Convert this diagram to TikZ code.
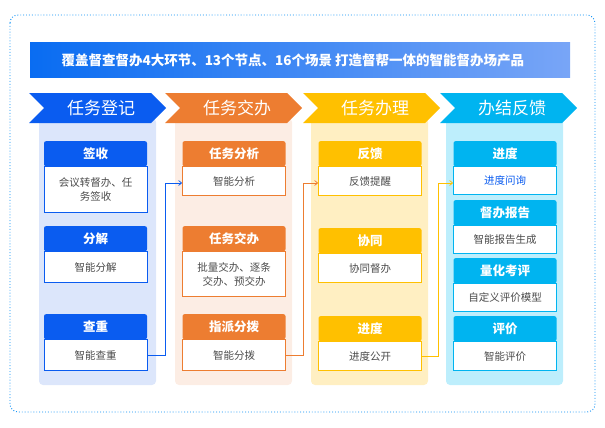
\documentclass[tikz,border=0pt]{standalone}
\usepackage{fontspec}
\setmainfont{Noto Sans CJK SC}
\usetikzlibrary{arrows.meta,shapes.symbols}
\definecolor{cBlue}{HTML}{0A5CF0}
\definecolor{bBlue}{HTML}{DCE6FB}
\definecolor{cOrange}{HTML}{ED7D31}
\definecolor{bOrange}{HTML}{FCEDE4}
\definecolor{cYellow}{HTML}{FFC000}
\definecolor{bYellow}{HTML}{FFEFC2}
\definecolor{cCyan}{HTML}{00B4F0}
\definecolor{bCyan}{HTML}{BDEEFC}
\tikzset{
  head/.style={fill=#1,text=white,font=\bfseries\fontsize{12.5}{14}\selectfont,minimum width=103pt,minimum height=25pt,anchor=north,inner sep=0pt,rounded corners=2pt},
  body/.style={draw=#1,fill=white,text=black!70,font=\fontsize{10.5}{14}\selectfont,minimum width=103pt,anchor=north,inner sep=1pt,align=center,line width=0.8pt},
  link/.style={draw=#1,line width=0.7pt,-{Straight Barb[length=3pt,width=5pt]}},
  chev/.style={fill=#1}
}
\newcommand{\card}[7]{% name, x, y, color, head, body, body height
  \node[head=#4] (#1h) at (#2,#3) {#5};
  \node[body=#4,minimum height=#7] (#1b) at (#1h.south) {#6};
}
\begin{document}
\begin{tikzpicture}[x=1pt,y=-1pt]
\useasboundingbox (0,0) rectangle (605,428);
\draw[cBlue!70!cyan,dotted,line width=0.9pt,rounded corners=8pt] (10,15) rectangle (595,412);
% title bar
\shade[left color=cBlue!90!cyan,right color=cBlue!55!white] (30,43) rectangle (570,78);
\node[text=white,font=\bfseries\fontsize{13.5}{15}\selectfont,anchor=west] (title) at (58,60.5) {覆盖督查督办4大环节、13个节点、16个场景 打造督帮一体的智能督办场产品};
% column backgrounds
\foreach \x/\c in {39/bBlue,175/bOrange,311/bYellow,446/bCyan}
  \fill[\c,rounded corners=4pt] (\x,118) rectangle ++(117,267);
% chevrons
\foreach \x/\c/\t in {29/cBlue/任务登记,165/cOrange/任务交办,303/cYellow/任务办理,440/cCyan/办结反馈}{
  \fill[\c] (\x,93) -- ++(122,0) -- ++(15,15) -- ++(-15,15) -- ++(-122,0) -- ++(15,-15) -- cycle;
  \node[text=white,font=\fontsize{17}{19}\selectfont] at (\x+72,108) {\t};
}
% column 1
\card{qs}{95.5}{141}{cBlue}{签收}{会议转督办、任\\务签收}{46pt}
\card{fj}{95.5}{226}{cBlue}{分解}{智能分解}{31pt}
\card{cz}{95.5}{314}{cBlue}{查重}{智能查重}{31pt}
% column 2
\card{fx}{234}{141}{cOrange}{任务分析}{智能分析}{29pt}
\card{jb}{234}{226}{cOrange}{任务交办}{批量交办、逐条\\交办、预交办}{45pt}
\card{zp}{234}{314}{cOrange}{指派分拨}{智能分拨}{31pt}
% column 3
\card{fk}{370}{141}{cYellow}{反馈}{反馈提醒}{29pt}
\card{xt}{370}{228}{cYellow}{协同}{协同督办}{29pt}
\card{jd}{370}{316}{cYellow}{进度}{进度公开}{29pt}
% column 4
\card{jx}{505}{141}{cCyan}{进度}{\textcolor{cBlue}{进度问询}}{28pt}
\card{bg}{505}{200}{cCyan}{督办报告}{智能报告生成}{28pt}
\card{kp}{505}{258}{cCyan}{量化考评}{自定义评价模型}{28pt}
\card{pj}{505}{316}{cCyan}{评价}{智能评价}{29pt}
% connectors
\draw[link=cBlue] (czb.east) -| (165,183) -- (fxb.west |- 0,183);
\draw[link=cOrange] (zpb.east) -| (303,183) -- (fkb.west |- 0,183);
\draw[link=cYellow] (jdb.east) -| (438,183) -- (jxb.west |- 0,183);
\end{tikzpicture}
\end{document}
